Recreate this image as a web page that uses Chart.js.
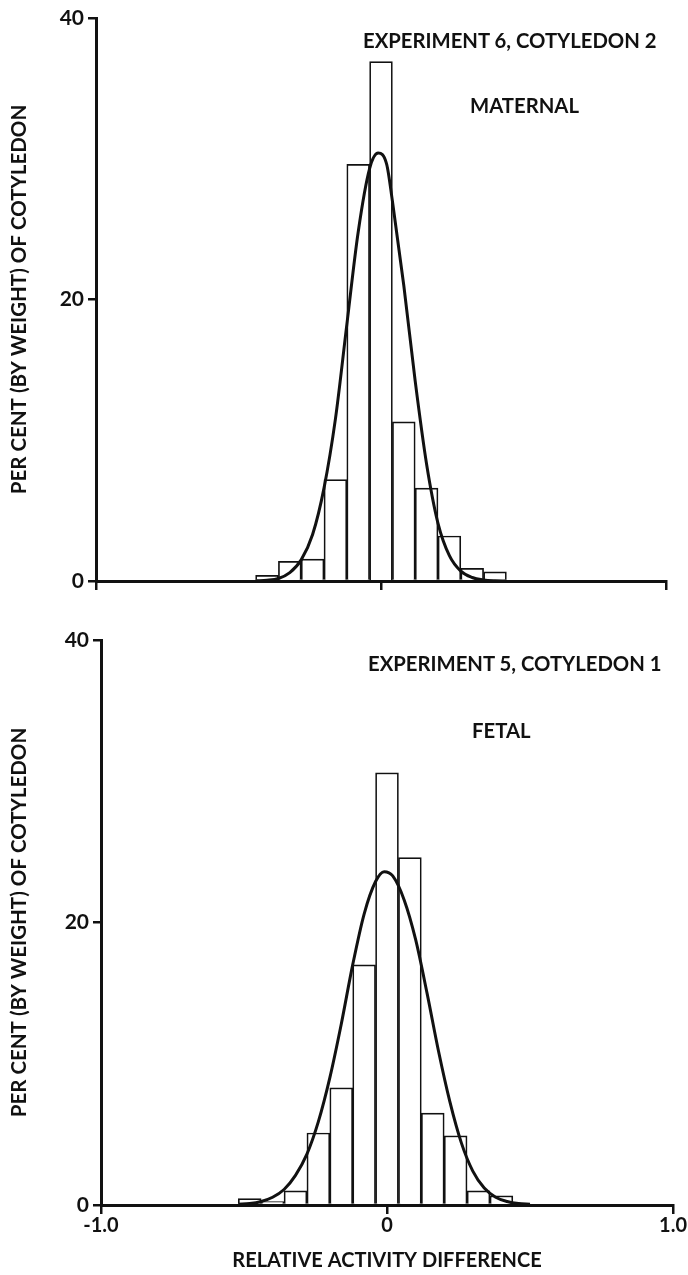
<!DOCTYPE html>
<html>
<head>
<meta charset="utf-8">
<script src="https://cdn.jsdelivr.net/npm/chart.js@4.4.1/dist/chart.umd.min.js"></script>
<style>
  html, body { margin: 0; padding: 0; background: #fff; }
  #wrap { position: relative; width: 688px; height: 1275px; overflow: hidden; background: #fff; }
  canvas { position: absolute; left: 0; }
  .note { position: absolute; font-family: Lato, "DejaVu Sans", sans-serif; font-weight: 700; font-size: 20.3px; line-height: 22px; color: #111; white-space: nowrap; }
</style>
</head>
<body>
<div id="wrap">
  <canvas id="top" width="688" height="615" style="top:0px"></canvas>
  <canvas id="bottom" width="688" height="660" style="top:615px"></canvas>
  <div class="note" style="left:363px; top:29px;">EXPERIMENT 6, COTYLEDON 2</div>
  <div class="note" style="left:470px; top:94px;">MATERNAL</div>
  <div class="note" style="left:368px; top:652px;">EXPERIMENT 5, COTYLEDON 1</div>
  <div class="note" style="left:472px; top:719px;">FETAL</div>
</div>
<script>
// ---- Data ----
// Histogram bin centres (relative activity difference), bin width 0.08
const topBins = [-0.40, -0.32, -0.24, -0.16, -0.08, 0.00, 0.08, 0.16, 0.24, 0.32, 0.40];
const topPercent = [0.4, 1.4, 1.55, 7.2, 29.6, 36.9, 11.3, 6.6, 3.2, 0.9, 0.65];

const bottomBins = [-0.48, -0.40, -0.32, -0.24, -0.16, -0.08, 0.00, 0.08, 0.16, 0.24, 0.32, 0.40];
const bottomPercent = [0.45, 0.25, 1.0, 5.1, 8.3, 17.0, 30.6, 24.6, 6.5, 4.9, 1.0, 0.65];

// Fitted curves, points
const topCurveX = [-0.44, -0.40, -0.36, -0.32, -0.28, -0.24, -0.20, -0.16, -0.12, -0.08, -0.04, -0.01, 0.02, 0.04, 0.08, 0.12, 0.16, 0.20, 0.24, 0.28, 0.32, 0.36, 0.40, 0.44];
const topCurveY = [0.01, 0.05, 0.18, 0.6, 1.5, 3.3, 6.6, 11.5, 18.2, 24.8, 29.3, 30.4, 29.6, 27.0, 21.0, 14.2, 8.3, 4.1, 1.8, 0.7, 0.25, 0.08, 0.02, 0.0];

const bottomCurveX = [-0.52, -0.48, -0.44, -0.40, -0.36, -0.32, -0.28, -0.24, -0.20, -0.16, -0.12, -0.08, -0.04, -0.01, 0.02, 0.06, 0.10, 0.14, 0.18, 0.22, 0.26, 0.30, 0.34, 0.38, 0.42, 0.46, 0.50];
const bottomCurveY = [0.05, 0.1, 0.25, 0.55, 1.1, 2.1, 3.6, 5.9, 9.0, 12.8, 17.0, 20.6, 22.9, 23.6, 23.3, 21.6, 18.8, 15.0, 10.9, 7.3, 4.4, 2.4, 1.2, 0.55, 0.25, 0.1, 0.05];

const xTicks = [-1.0, 0, 1.0];
const xTickLabels = ['-1.0', '0', '1.0'];
const yTicks = [0, 20, 40];

const yTitle = 'PER CENT (BY WEIGHT) OF COTYLEDON';
const xTitle = 'RELATIVE ACTIVITY DIFFERENCE';

// ---- Chart construction ----
const FONT = 'Lato, "DejaVu Sans", sans-serif';
const INK = '#111';

function pairs(xs, ys) { return xs.map((x, i) => ({ x: x, y: ys[i] })); }

function makeChart(id, bins, pct, cx, cy, geom, showXLabels) {
  return new Chart(document.getElementById(id), {
    data: {
      datasets: [
        {
          type: 'line',
          data: pairs(cx, cy),
          borderColor: INK,
          borderWidth: 3,
          pointRadius: 0,
          fill: false,
          cubicInterpolationMode: 'monotone',
          order: 0
        },
        {
          type: 'bar',
          data: pairs(bins, pct),
          backgroundColor: '#fff',
          borderColor: INK,
          borderWidth: 1.7,
          barPercentage: 1,
          categoryPercentage: 1,
          order: 1
        }
      ]
    },
    options: {
      responsive: false,
      animation: false,
      devicePixelRatio: 1,
      layout: { padding: { left: 0, right: geom.right, top: geom.top, bottom: 0 } },
      plugins: { legend: { display: false }, tooltip: { enabled: false }, title: { display: false } },
      scales: {
        x: {
          type: 'linear',
          min: -1, max: 1,
          offset: false,
          afterBuildTicks: (s) => { s.ticks = xTicks.map(v => ({ value: v })); },
          afterFit: (s) => { s.height = geom.xh; },
          grid: { display: true, offset: false, drawOnChartArea: false, drawTicks: true, tickLength: 9, lineWidth: 2.5, color: INK },
          border: { display: true, width: 3, color: INK },
          ticks: {
            display: showXLabels,
            padding: 0,
            maxRotation: 0,
            color: INK,
            font: { family: FONT, size: 20, weight: 'bold' },
            callback: (v) => { const i = xTicks.indexOf(v); return i >= 0 ? xTickLabels[i] : ''; }
          },
          title: showXLabels ? {
            display: true, text: xTitle, color: INK,
            font: { family: FONT, size: 20, weight: 'bold' },
            padding: { top: 0, bottom: 2 }
          } : { display: false }
        },
        y: {
          type: 'linear',
          min: 0, max: 40,
          afterBuildTicks: (s) => { s.ticks = yTicks.map(v => ({ value: v })); },
          afterFit: (s) => { s.width = geom.left; },
          grid: { display: true, drawOnChartArea: false, drawTicks: true, tickLength: 8, lineWidth: 2.5, color: INK },
          border: { display: true, width: 3, color: INK },
          ticks: {
            padding: 4,
            color: INK,
            font: { family: FONT, size: 21, weight: 'bold' }
          },
          title: {
            display: true, text: yTitle, color: INK,
            font: { family: FONT, size: 20.5, weight: 'bold' },
            padding: { top: 7, bottom: 0 }
          }
        }
      }
    }
  });
}

makeChart('top', topBins, topPercent, topCurveX, topCurveY,
  { left: 96, right: 22, top: 18, xh: 34 }, false);
makeChart('bottom', bottomBins, bottomPercent, bottomCurveX, bottomCurveY,
  { left: 101, right: 15, top: 25, xh: 70 }, true);
</script>
</body>
</html>
